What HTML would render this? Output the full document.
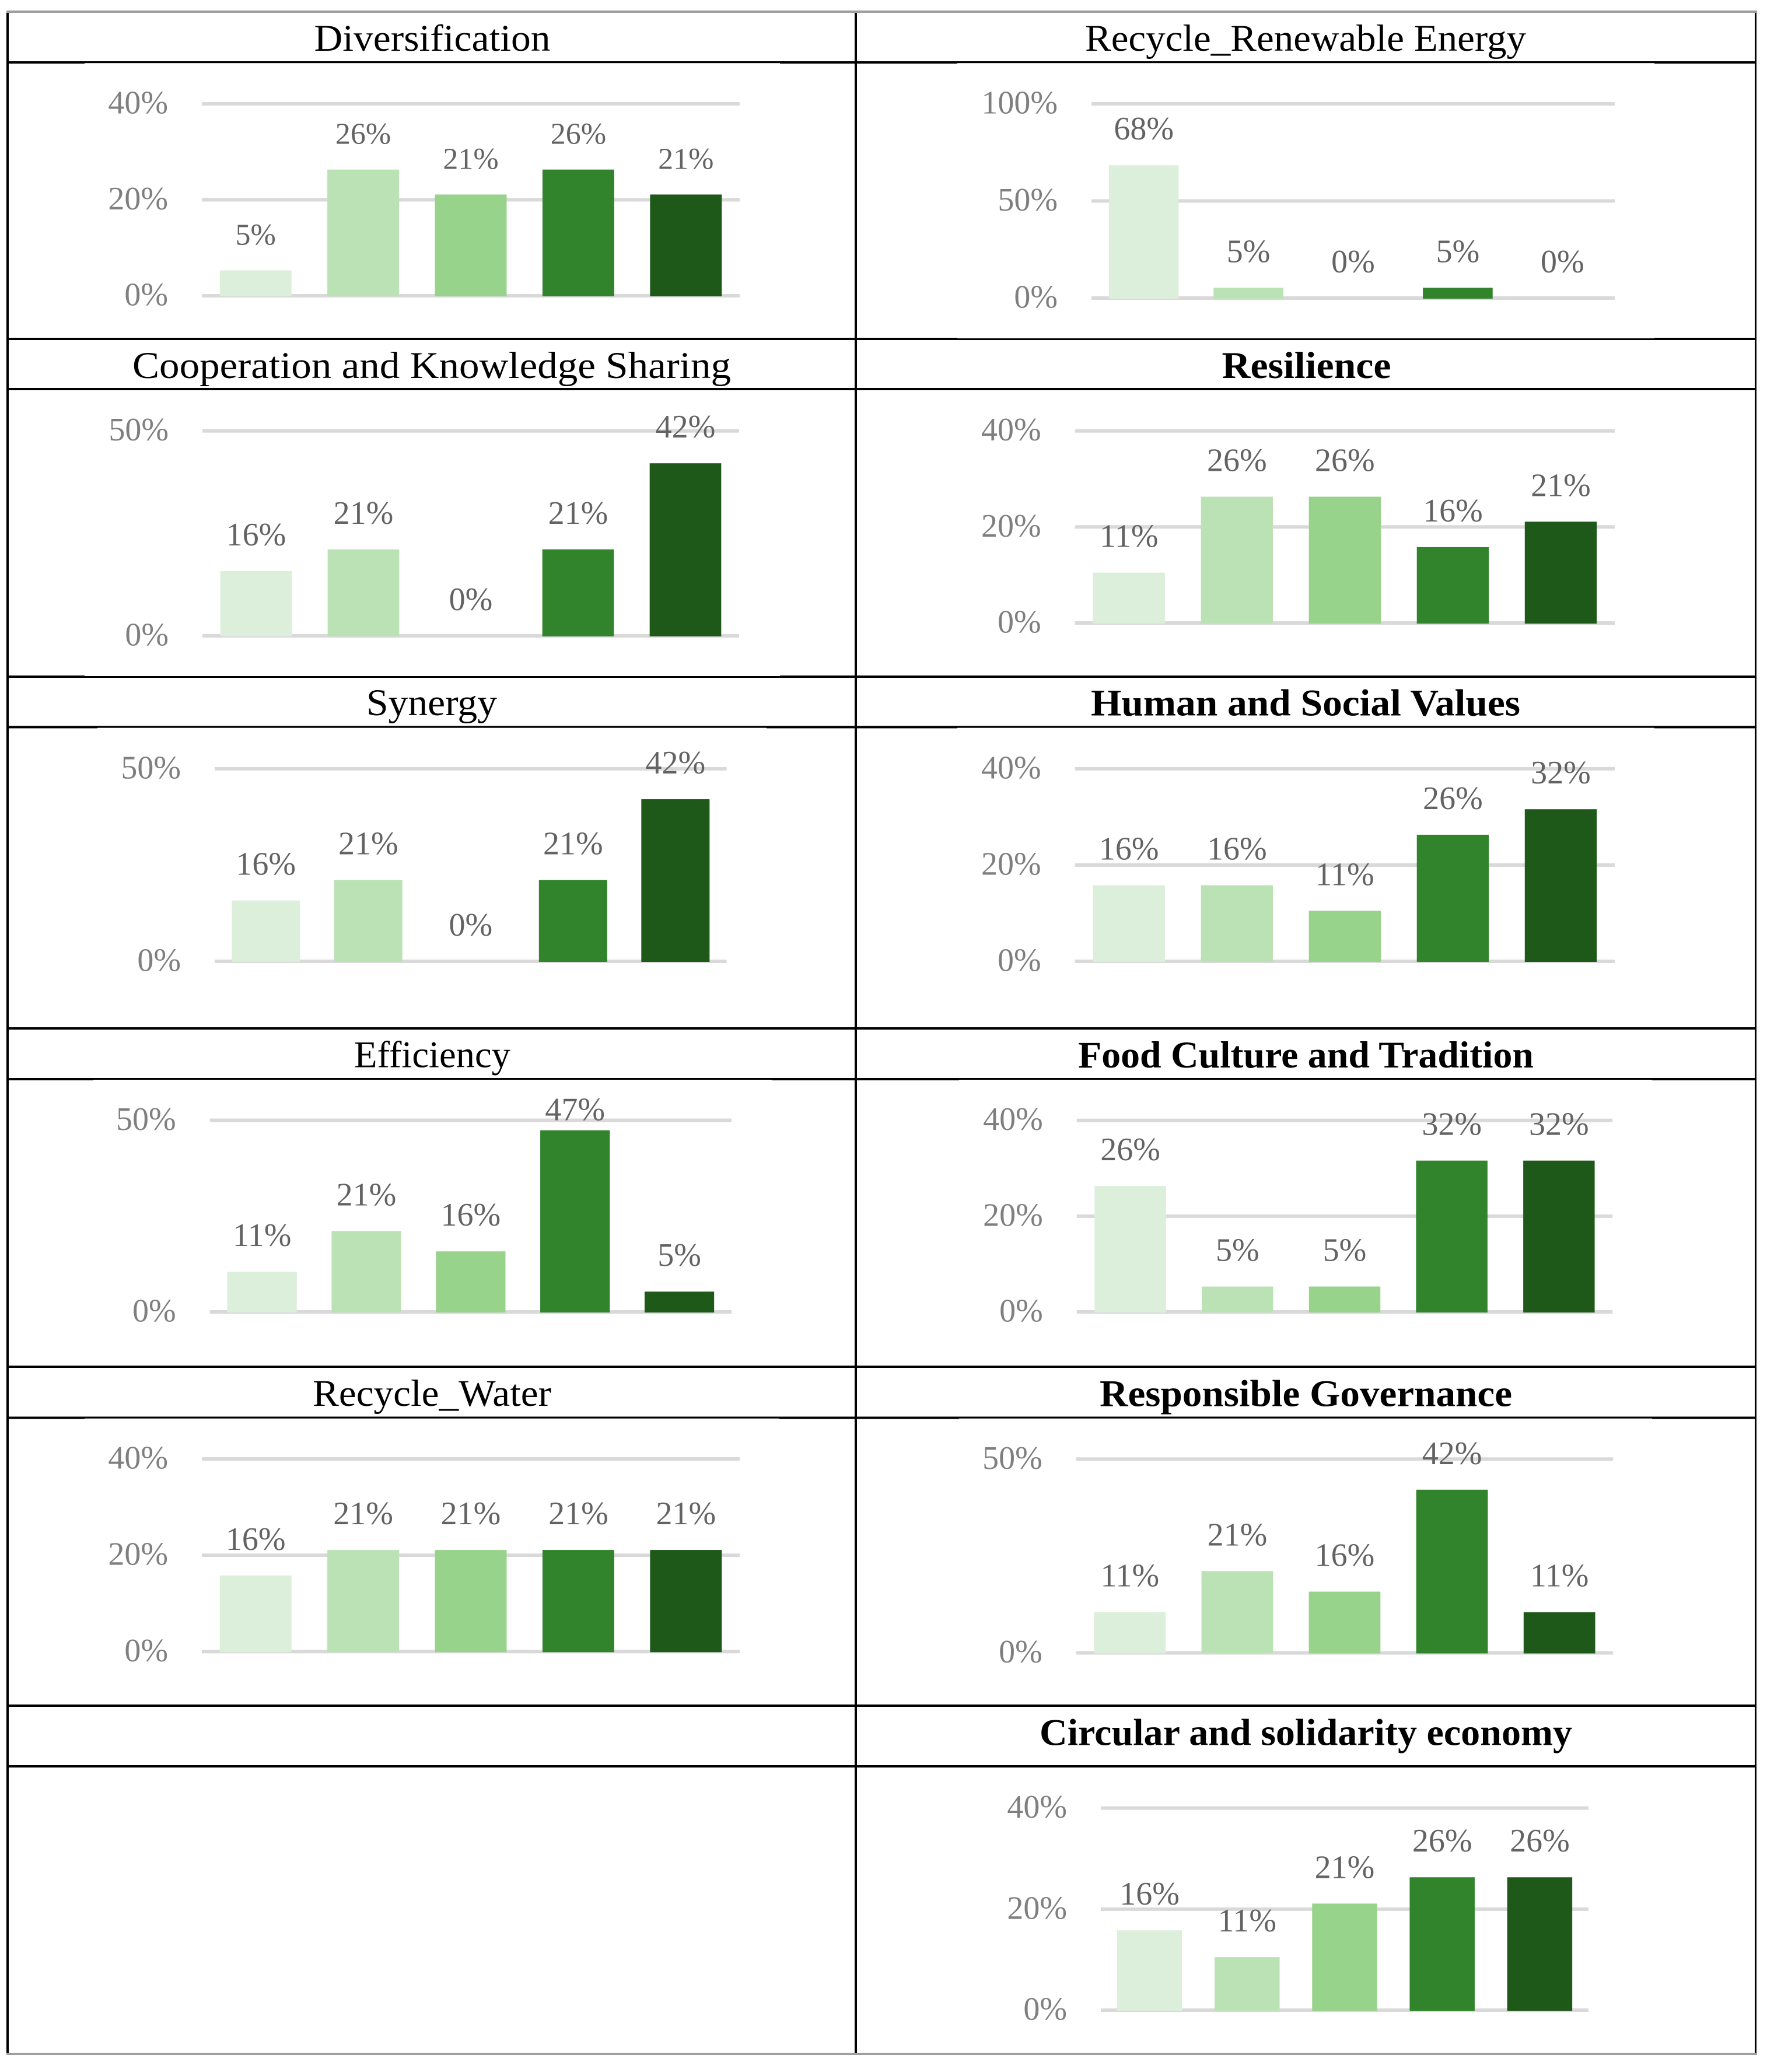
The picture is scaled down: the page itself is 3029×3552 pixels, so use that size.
<!DOCTYPE html>
<html lang="en">
<head>
<meta charset="utf-8">
<title>Agroecology principles bar chart table</title>
<style>
html,body{margin:0;padding:0;background:#fff}
svg{display:block}
text{font-family:"Liberation Serif",serif}
.title{font-size:65px;fill:#000;text-anchor:middle}
.title.b{font-weight:bold}
</style>
</head>
<body>
<svg id="sheet" xmlns="http://www.w3.org/2000/svg" width="3029" height="3552" viewBox="0 0 3029 3552">
  <rect x="0" y="0" width="3029" height="3552" fill="#ffffff"/>
  <g fill="#000">
    <rect x="11" y="21" width="4" height="3499"/>
    <rect x="1465" y="21" width="4" height="3499"/>
    <rect x="3008" y="21" width="3" height="3499"/>
    <rect x="11" y="105" width="3000" height="4"/>
    <rect x="11" y="579" width="3000" height="4"/>
    <rect x="11" y="665" width="3000" height="4"/>
    <rect x="11" y="1158" width="3000" height="4"/>
    <rect x="11" y="1244.5" width="3000" height="4"/>
    <rect x="11" y="1761" width="3000" height="4"/>
    <rect x="11" y="1848" width="3000" height="4"/>
    <rect x="11" y="2341" width="3000" height="4"/>
    <rect x="11" y="2428.5" width="3000" height="4"/>
    <rect x="11" y="2922" width="3000" height="4"/>
    <rect x="11" y="3026" width="3000" height="4"/>
    <rect x="11" y="18" width="3001" height="4" fill="#9f9f9f"/>
    <rect x="11" y="3519" width="3001" height="4" fill="#9f9f9f"/>
  </g>
  <g fill="#fff">
    <rect x="145" y="108.2" width="1192" height="1"/>
    <rect x="1641" y="108.2" width="1195" height="1"/>
    <rect x="1641" y="579" width="1195" height="1"/>
    <rect x="145" y="1158" width="1192" height="1"/>
    <rect x="167" y="1247.7" width="1147" height="1"/>
    <rect x="1641" y="1247.7" width="1195" height="1"/>
    <rect x="160" y="1851" width="1163" height="1"/>
    <rect x="1644" y="1851" width="1188" height="1"/>
    <rect x="145" y="2431.7" width="1191" height="1"/>
    <rect x="1644" y="2431.7" width="1188" height="1"/>
  </g>
  <g>
    <text class="title" x="741" y="87" textLength="405" lengthAdjust="spacingAndGlyphs">Diversification</text>
    <text class="title" x="2238" y="87" textLength="756" lengthAdjust="spacingAndGlyphs">Recycle_Renewable Energy</text>
    <text class="title" x="740" y="648" textLength="1026" lengthAdjust="spacingAndGlyphs">Cooperation and Knowledge Sharing</text>
    <text class="title b" x="2239.5" y="648" textLength="290" lengthAdjust="spacingAndGlyphs">Resilience</text>
    <text class="title" x="740" y="1226" textLength="224" lengthAdjust="spacingAndGlyphs">Synergy</text>
    <text class="title b" x="2238" y="1226.5" textLength="736" lengthAdjust="spacingAndGlyphs">Human and Social Values</text>
    <text class="title" x="741" y="1829.5" textLength="268" lengthAdjust="spacingAndGlyphs">Efficiency</text>
    <text class="title b" x="2238.5" y="1830" textLength="781" lengthAdjust="spacingAndGlyphs">Food Culture and Tradition</text>
    <text class="title" x="740.5" y="2410" textLength="409" lengthAdjust="spacingAndGlyphs">Recycle_Water</text>
    <text class="title b" x="2238.5" y="2410.5" textLength="707" lengthAdjust="spacingAndGlyphs">Responsible Governance</text>
    <text class="title b" x="2238.5" y="2991.5" textLength="913" lengthAdjust="spacingAndGlyphs">Circular and solidarity economy</text>
  </g>
  <g id="charts"></g>
</svg>
<script>
// Share of responses (%) for the five categories
const diversificationValues = [5.3, 26.3, 21.1, 26.3, 21.1];
const renewableEnergyValues = [68.4, 5.3, 0, 5.3, 0];
const cooperationValues = [15.8, 21.1, 0, 21.1, 42.1];
const resilienceValues = [10.5, 26.3, 26.3, 15.8, 21.1];
const synergyValues = [15.8, 21.1, 0, 21.1, 42.1];
const humanSocialValues = [15.8, 15.8, 10.5, 26.3, 31.6];
const efficiencyValues = [10.5, 21.1, 15.8, 47.4, 5.3];
const foodCultureValues = [26.3, 5.3, 5.3, 31.6, 31.6];
const recycleWaterValues = [15.8, 21.1, 21.1, 21.1, 21.1];
const governanceValues = [10.5, 21.1, 15.8, 42.1, 10.5];
const circularEconomyValues = [15.8, 10.5, 21.1, 26.3, 26.3];

// Y-axis ticks (%)
const ticksTo40 = [0, 20, 40];
const ticksTo50 = [0, 50];
const ticksTo100 = [0, 50, 100];

const SVG_NS = 'http://www.w3.org/2000/svg';
const BAR_COLORS = ['#dcefdb', '#bbe2b5', '#98d38b', '#31842b', '#1f5919'];
const root = document.getElementById('charts');

function make(tag, attrs, parent, text) {
  const node = document.createElementNS(SVG_NS, tag);
  for (const key in attrs) node.setAttribute(key, attrs[key]);
  if (text !== undefined) node.textContent = text;
  parent.appendChild(node);
  return node;
}

function drawChart(values, ticks, frame) {
  const g = make('g', {}, root);
  
  

  const axisMax = ticks[ticks.length - 1];
  const yScale = function (v) { return frame.zero - (v / axisMax) * (frame.zero - frame.top); };
  const slot = (frame.right - frame.left) / values.length;
  const barWidth = slot / 1.5;
  const xCenter = function (i) { return frame.left + slot * (i + 0.5); };

  ticks.forEach(function (t) {
    const y = yScale(t);
    const line = make('rect', {x: frame.left, y: y - 3, width: frame.right - frame.left, height: 6, fill: '#d9d9d9'}, g);
    
    
    const label = make('text', {x: frame.left - 58, y: y + 16.5, 'text-anchor': 'end', 'font-size': 56, fill: '#7f7f7f'}, g, t + '%');
    
    
  });

  values.forEach(function (v, i) {
    const top = yScale(v);
    if (v > 0) {
      const bar = make('rect', {x: xCenter(i) - barWidth / 2, y: top, width: barWidth, height: frame.zero + 1 - top, fill: BAR_COLORS[i]}, g);
      
      
    }
  });

  values.forEach(function (v, i) {
    const baseline = Math.max(yScale(v) - 44, frame.labelFloor || 0);
    const label = make('text', {x: xCenter(i), y: baseline, 'text-anchor': 'middle', 'font-size': frame.labelSize || 56, fill: '#636363'}, g, Math.round(v) + '%');
    
    
  });
}

drawChart(diversificationValues, ticksTo40, {left: 346, right: 1268, top: 178, zero: 507, labelSize: 52});
drawChart(renewableEnergyValues, ticksTo100, {left: 1871, right: 2768, top: 178, zero: 511});
drawChart(cooperationValues, ticksTo50, {left: 347, right: 1267, top: 738.7, zero: 1090});
drawChart(resilienceValues, ticksTo40, {left: 1842.7, right: 2768, top: 738.7, zero: 1068});
drawChart(synergyValues, ticksTo50, {left: 368, right: 1245.6, top: 1317.9, zero: 1648});
drawChart(humanSocialValues, ticksTo40, {left: 1842.7, right: 2768, top: 1317.9, zero: 1648});
drawChart(efficiencyValues, ticksTo50, {left: 359.7, right: 1254, top: 1920.5, zero: 2249, labelFloor: 1920.5});
drawChart(foodCultureValues, ticksTo40, {left: 1845.8, right: 2764.2, top: 1920.7, zero: 2249});
drawChart(recycleWaterValues, ticksTo40, {left: 346, right: 1268, top: 2501, zero: 2831.3});
drawChart(governanceValues, ticksTo50, {left: 1844.8, right: 2765.2, top: 2501.3, zero: 2833.5});
drawChart(circularEconomyValues, ticksTo40, {left: 1887, right: 2723, top: 3099.6, zero: 3446});
</script>
</body>
</html>
